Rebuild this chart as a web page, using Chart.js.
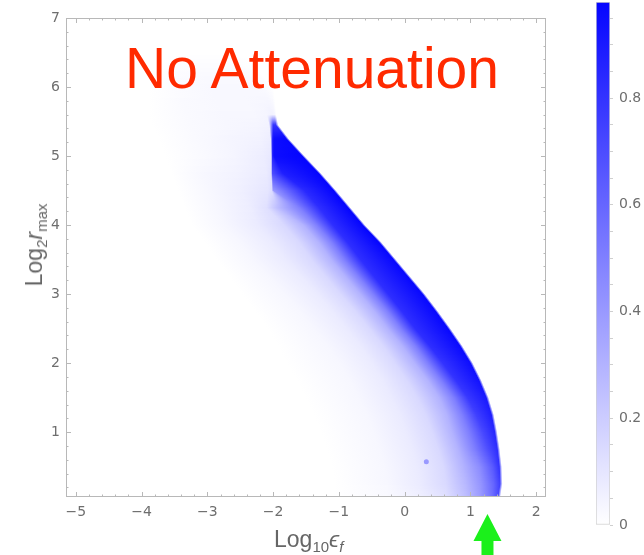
<!DOCTYPE html>
<html>
<head>
<meta charset="utf-8">
<script src="https://cdn.jsdelivr.net/npm/chart.js@4.4.1/dist/chart.umd.min.js"></script>
<style>
  html, body { margin: 0; padding: 0; background: #fff; }
  body { width: 644px; height: 555px; position: relative; overflow: hidden; font-family: "Liberation Sans", "DejaVu Sans", sans-serif; }
  #main { position: absolute; left: 0; top: 0; }
  #bar { position: absolute; left: 560px; top: 0; }
  .title { position: absolute; left: 125px; top: 40px; font-size: 57px; line-height: 1; color: #ff2a00; white-space: nowrap; }
  .axlab { position: absolute; color: #666; font-size: 23px; line-height: 1; white-space: nowrap; }
  .axlab sub { font-size: 15px; vertical-align: -5px; }
  #xlab { left: 274px; top: 528px; }
  #ylab { left: 36px; top: 245px; transform: translate(-50%, -50%) rotate(-90deg); }
</style>
</head>
<body>
<canvas id="main" width="560" height="555"></canvas>
<canvas id="bar" width="84" height="555"></canvas>
<div class="title">No Attenuation</div>
<div class="axlab" id="xlab">Log<sub>10</sub><i>ϵ</i><sub><i>f</i></sub></div>
<div class="axlab" id="ylab">Log<sub>2</sub><i>r</i><sub>max</sub></div>
<script>
// axis ranges and ticks
const xRange = [-5.15, 2.15];
const yRange = [0.06, 7];
const xTicks = [-5, -4, -3, -2, -1, 0, 1, 2];
const yTicks = [1, 2, 3, 4, 5, 6, 7];
const colorTicks = [0, 0.2, 0.4, 0.6, 0.8];
const colorMax = 0.98;

// density rows: for each Log2 r_max row, the Log10 eps positions where
// the density takes the values in rowV (left fade -> ridge -> cutoff)
const rowY = [6.5, 6.1, 5.6, 5.45, 5.25, 5.0, 4.75, 4.5, 4.25, 4.0, 3.75, 3.5, 3.25,
              3.0, 2.75, 2.5, 2.25, 2.0, 1.75, 1.5, 1.25, 1.0, 0.75, 0.5, 0.25, 0.06];
const rowX = [
  [-3.6, -3.4, -3.2, -3.0, -2.8, -2.6, -2.4, -2.2, -2.1],
  [-3.9, -3.5, -3.0, -2.6, -2.3, -2.15, -2.1, -2.05, -2.0],
  [-3.9, -3.3, -2.75, -2.3, -2.1, -2.04, -2.01, -1.98, -1.95],
  [-3.85, -3.25, -2.7, -2.25, -2.06, -2.02, -2.0, -1.96, -1.92],
  [-3.75, -3.2, -2.65, -2.2, -2.04, -2.01, -1.99, -1.80, -1.76],
  [-3.65, -3.1, -2.6, -2.15, -2.03, -2.01, -1.99, -1.56, -1.52],
  [-3.55, -3.05, -2.55, -2.1, -2.03, -2.01, -1.85, -1.31, -1.27],
  [-3.45, -2.95, -2.5, -2.08, -2.02, -2.0, -1.52, -1.08, -1.04],
  [-3.35, -2.85, -2.35, -2.1, -1.95, -1.6, -1.3, -0.86, -0.82],
  [-3.24, -2.74, -2.24, -1.84, -1.54, -1.34, -1.09, -0.64, -0.60],
  [-3.04, -2.51, -2.01, -1.61, -1.31, -1.11, -0.87, -0.39, -0.35],
  [-2.87, -2.32, -1.82, -1.42, -1.12, -0.92, -0.67, -0.17, -0.13],
  [-2.67, -2.07, -1.57, -1.20, -0.90, -0.70, -0.46, 0.05, 0.09],
  [-2.48, -1.83, -1.33, -0.98, -0.68, -0.48, -0.25, 0.27, 0.31],
  [-2.28, -1.60, -1.10, -0.75, -0.46, -0.26, -0.04, 0.47, 0.51],
  [-2.09, -1.39, -0.89, -0.54, -0.26, -0.06, 0.16, 0.66, 0.70],
  [-1.93, -1.18, -0.68, -0.33, -0.04, 0.16, 0.38, 0.84, 0.88],
  [-1.80, -1.0, -0.5, -0.15, 0.15, 0.35, 0.58, 1.0, 1.04],
  [-1.64, -0.84, -0.34, 0.03, 0.35, 0.55, 0.78, 1.13, 1.17],
  [-1.51, -0.71, -0.21, 0.19, 0.52, 0.74, 0.96, 1.24, 1.28],
  [-1.38, -0.58, -0.08, 0.32, 0.64, 0.87, 1.09, 1.32, 1.36],
  [-1.28, -0.48, 0.02, 0.42, 0.72, 0.97, 1.19, 1.37, 1.41],
  [-1.19, -0.39, 0.11, 0.51, 0.81, 1.06, 1.27, 1.41, 1.45],
  [-1.11, -0.31, 0.19, 0.59, 0.89, 1.14, 1.34, 1.44, 1.48],
  [-1.07, -0.27, 0.23, 0.63, 0.93, 1.16, 1.35, 1.45, 1.49],
  [-1.08, -0.28, 0.22, 0.62, 0.92, 1.14, 1.32, 1.42, 1.46]
];
const rowV = [
  [0, 0, 0, 0, 0, 0, 0, 0, 0],
  [0, 0.015, 0.025, 0.025, 0.02, 0.01, 0, 0, 0],
  [0, 0.02, 0.03, 0.03, 0.04, 0.05, 0.05, 0.04, 0],
  [0, 0.02, 0.03, 0.04, 0.05, 0.55, 0.8, 0.8, 0],
  [0, 0.02, 0.04, 0.05, 0.07, 0.85, 0.95, 0.97, 0],
  [0, 0.02, 0.04, 0.07, 0.09, 0.85, 0.95, 0.98, 0],
  [0, 0.03, 0.05, 0.08, 0.11, 0.7, 0.88, 0.98, 0],
  [0, 0.03, 0.06, 0.1, 0.13, 0.4, 0.84, 0.98, 0],
  [0, 0.03, 0.07, 0.12, 0.25, 0.5, 0.82, 0.98, 0],
  [0, 0.03, 0.08, 0.15, 0.3, 0.5, 0.82, 0.98, 0],
  [0, 0.03, 0.08, 0.15, 0.3, 0.5, 0.82, 0.98, 0],
  [0, 0.03, 0.08, 0.15, 0.3, 0.5, 0.82, 0.97, 0],
  [0, 0.03, 0.08, 0.15, 0.3, 0.5, 0.82, 0.97, 0],
  [0, 0.03, 0.08, 0.15, 0.3, 0.5, 0.82, 0.97, 0],
  [0, 0.03, 0.08, 0.15, 0.3, 0.5, 0.82, 0.97, 0],
  [0, 0.03, 0.08, 0.15, 0.3, 0.5, 0.82, 0.97, 0],
  [0, 0.03, 0.08, 0.15, 0.3, 0.5, 0.82, 0.96, 0],
  [0, 0.03, 0.08, 0.15, 0.3, 0.5, 0.8, 0.95, 0],
  [0, 0.03, 0.08, 0.15, 0.3, 0.5, 0.8, 0.93, 0],
  [0, 0.03, 0.08, 0.15, 0.3, 0.5, 0.78, 0.9, 0],
  [0, 0.03, 0.08, 0.15, 0.3, 0.5, 0.75, 0.88, 0],
  [0, 0.03, 0.08, 0.15, 0.3, 0.5, 0.72, 0.85, 0],
  [0, 0.03, 0.08, 0.15, 0.3, 0.5, 0.7, 0.82, 0],
  [0, 0.03, 0.08, 0.15, 0.3, 0.45, 0.65, 0.8, 0],
  [0, 0.03, 0.08, 0.15, 0.28, 0.42, 0.6, 0.75, 0],
  [0, 0.02, 0.06, 0.12, 0.25, 0.38, 0.55, 0.7, 0]
];
// isolated speck below the ridge
const speck = [{ x: 0.33, y: 0.57 }];
const speckValue = 0.4;
// marker under the x axis
const arrowX = 1.26;

// white -> blue colour function
function shade(v) {
  const c = Math.round(255 * (1 - Math.max(0, Math.min(1, v))));
  return `rgb(${c},${c},255)`;
}

const densityPlugin = {
  id: 'density',
  beforeDatasetsDraw(chart) {
    const { ctx, chartArea: a, scales: { x, y } } = chart;
    ctx.save();
    ctx.beginPath();
    ctx.rect(a.left, a.top, a.right - a.left, a.bottom - a.top);
    ctx.clip();
    for (let py = Math.floor(a.top); py < a.bottom; py++) {
      const yv = y.getValueForPixel(py + 0.5);
      let i = -1;
      for (let k = 0; k < rowY.length - 1; k++) {
        if (rowY[k] >= yv && rowY[k + 1] <= yv) { i = k; break; }
      }
      if (i < 0) continue;
      const t = (rowY[i] - yv) / (rowY[i] - rowY[i + 1]);
      const px = rowX[i].map((v, k) => x.getPixelForValue(v + (rowX[i + 1][k] - v) * t));
      const vs = rowV[i].map((v, k) => v + (rowV[i + 1][k] - v) * t);
      const w = px[px.length - 1] - px[0];
      if (w <= 0) continue;
      const g = ctx.createLinearGradient(px[0], 0, px[px.length - 1], 0);
      let last = 0;
      px.forEach((p, k) => {
        const f = Math.min(1, Math.max(last, (p - px[0]) / w));
        last = f;
        g.addColorStop(f, shade(vs[k]));
      });
      ctx.fillStyle = g;
      ctx.fillRect(px[0], py, w, 1);
    }
    ctx.restore();
  }
};

// Mathematica-style frame with inward ticks on all four sides
const framePlugin = {
  id: 'frame',
  afterDraw(chart) {
    const { ctx, chartArea: a, scales: { x, y } } = chart;
    ctx.save();
    ctx.strokeStyle = '#b8b8b8';
    ctx.lineWidth = 1;
    ctx.strokeRect(a.left + 0.5, a.top + 0.5, a.right - a.left - 1, a.bottom - a.top - 1);
    ctx.beginPath();
    for (let v = -5.2; v <= 2.2; v += 0.2) {
      const vv = Math.round(v * 10) / 10;
      if (vv < xRange[0] || vv > xRange[1]) continue;
      const len = Number.isInteger(vv) ? 5 : 2.5;
      const p = Math.round(x.getPixelForValue(vv)) + 0.5;
      ctx.moveTo(p, a.bottom); ctx.lineTo(p, a.bottom - len);
      ctx.moveTo(p, a.top); ctx.lineTo(p, a.top + len);
    }
    for (let v = 0; v <= 7; v += 0.2) {
      const vv = Math.round(v * 10) / 10;
      if (vv < yRange[0] || vv > yRange[1]) continue;
      const len = Number.isInteger(vv) ? 5 : 2.5;
      const p = Math.round(y.getPixelForValue(vv)) + 0.5;
      ctx.moveTo(a.left, p); ctx.lineTo(a.left + len, p);
      ctx.moveTo(a.right, p); ctx.lineTo(a.right - len, p);
    }
    ctx.stroke();

    // green arrow pointing at the x axis
    const ax = x.getPixelForValue(arrowX);
    ctx.fillStyle = '#1bf01b';
    ctx.beginPath();
    ctx.moveTo(ax, 514);
    ctx.lineTo(ax + 14, 541);
    ctx.lineTo(ax + 6, 541);
    ctx.lineTo(ax + 6, 555);
    ctx.lineTo(ax - 6, 555);
    ctx.lineTo(ax - 6, 541);
    ctx.lineTo(ax - 14, 541);
    ctx.closePath();
    ctx.fill();
    ctx.restore();
  }
};

const tickFont = { family: 'DejaVu Sans', size: 14 };
const tickColor = '#6e6e6e';
const minus = v => String(v).replace('-', '\u2212');

new Chart(document.getElementById('main'), {
  type: 'scatter',
  data: {
    datasets: [{
      data: speck,
      pointRadius: 2.5,
      pointBackgroundColor: shade(speckValue),
      pointBorderWidth: 0
    }]
  },
  options: {
    responsive: false,
    animation: false,
    layout: { padding: { top: 18, right: 14, left: 0, bottom: 0 } },
    plugins: { legend: { display: false }, tooltip: { enabled: false } },
    scales: {
      x: {
        type: 'linear',
        min: xRange[0],
        max: xRange[1],
        afterBuildTicks: s => { s.ticks = xTicks.map(v => ({ value: v })); },
        afterFit: s => { s.height = 58; },
        grid: { display: false, drawTicks: false },
        border: { display: false },
        ticks: { color: tickColor, font: tickFont, padding: 7, maxRotation: 0, callback: minus }
      },
      y: {
        type: 'linear',
        min: yRange[0],
        max: yRange[1],
        afterBuildTicks: s => { s.ticks = yTicks.map(v => ({ value: v })); },
        afterFit: s => { s.width = 66; },
        grid: { display: false, drawTicks: false },
        border: { display: false },
        ticks: { color: tickColor, font: tickFont, padding: 6, callback: minus }
      }
    }
  },
  plugins: [densityPlugin, framePlugin]
});

// colour bar
new Chart(document.getElementById('bar'), {
  type: 'bar',
  data: {
    labels: [''],
    datasets: [{
      data: [[0, colorMax]],
      barPercentage: 1,
      categoryPercentage: 1,
      borderWidth: 1,
      borderColor: '#d0d0d0',
      borderSkipped: false,
      backgroundColor: ctx => {
        const { chartArea: a, scales } = ctx.chart;
        if (!a) return shade(0.5);
        const g = ctx.chart.ctx.createLinearGradient(0, scales.y.getPixelForValue(0), 0, scales.y.getPixelForValue(colorMax));
        g.addColorStop(0, shade(0));
        g.addColorStop(1, shade(colorMax));
        return g;
      }
    }]
  },
  options: {
    responsive: false,
    animation: false,
    layout: { padding: { top: 2, left: 36, right: 0, bottom: 30 } },
    plugins: { legend: { display: false }, tooltip: { enabled: false } },
    scales: {
      x: { display: false },
      y: {
        position: 'right',
        min: 0,
        max: colorMax,
        afterBuildTicks: s => {
          const t = [];
          for (let k = 0; k * 0.05 <= colorMax; k++) t.push({ value: Math.round(k * 5) / 100 });
          s.ticks = t;
        },
        afterFit: s => { s.width = 34; s.paddingTop = 0; s.paddingBottom = 0; },
        grid: { drawOnChartArea: false, tickLength: 3, color: '#cfcfcf' },
        border: { display: false },
        ticks: {
          color: tickColor,
          font: tickFont,
          padding: 6,
          autoSkip: false,
          callback: v => colorTicks.some(c => Math.abs(c - v) < 1e-6) ? String(v) : ''
        }
      }
    }
  }
});
</script>
</body>
</html>
